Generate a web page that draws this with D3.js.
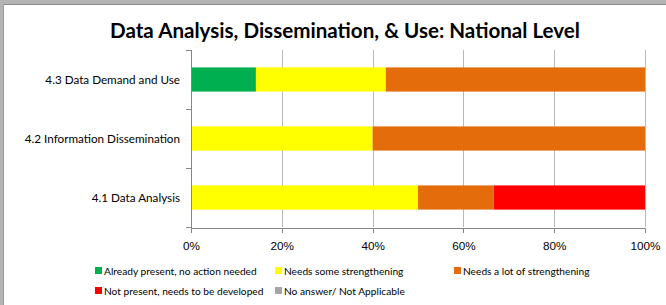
<!DOCTYPE html>
<html lang="en">
<head>
<meta charset="UTF-8">
<title>Data Analysis, Dissemination, & Use: National Level</title>
<script src="https://cdn.jsdelivr.net/npm/d3@7"></script>
<style>
    body { margin: 0; background: #fff; }
    svg { display: block; font-family: "Lato", "Open Sans", sans-serif; }
    .grid line { stroke: #b9b9b9; stroke-width: 1; }
    .axis path, .axis line { stroke: #868686; shape-rendering: crispEdges; }
    .axis text { fill: #000; font-size: 11.7px; }
</style>
</head>
<body>
<svg width="666" height="305"></svg>
<script>
// categories, bottom to top as drawn in the chart
var categories = ["4.1 Data Analysis", "4.2 Information Dissemination", "4.3 Data Demand and Use"];
var seriesNames = ["Already present, no action needed", "Needs some strengthening",
    "Needs a lot of strengthening", "Not present, needs to be developed", "No answer/ Not Applicable"];
var alreadyPresent = [0, 0, 14.3];
var someStrength = [50, 40, 28.6];
var lotStrength = [16.7, 60, 57.1];
var notPresent = [33.3, 0, 0];
var noAnswer = [0, 0, 0];
var xTicks = [0, 20, 40, 60, 80, 100];
var colors = ["#00b050", "#ffff00", "#e46c0a", "#ff0000", "#a6a6a6"];

var svg = d3.select("svg");

// window frame
svg.append("rect").attr("x", 0).attr("y", 0).attr("width", 666).attr("height", 4).attr("fill", "#b4b4b4");
svg.append("rect").attr("x", 0).attr("y", 0).attr("width", 3).attr("height", 305).attr("fill", "#b4b4b4");
svg.append("line").attr("x1", 3).attr("x2", 666).attr("y1", 4.5).attr("y2", 4.5).attr("stroke", "#8a8a8a");
svg.append("line").attr("x1", 3.5).attr("x2", 3.5).attr("y1", 4).attr("y2", 305).attr("stroke", "#9a9a9a");

svg.append("text")
    .attr("x", 345).attr("y", 38)
    .attr("text-anchor", "middle")
    .style("font-weight", "bold").style("font-size", "20.6px")
    .text("Data Analysis, Dissemination, & Use: National Level");

var rows = categories.map(function (c, i) {
    return {cat: c, s0: alreadyPresent[i], s1: someStrength[i], s2: lotStrength[i], s3: notPresent[i], s4: noAnswer[i]};
});
var keys = ["s0", "s1", "s2", "s3", "s4"];
var stacked = d3.stack().keys(keys)(rows);

var x = d3.scaleLinear().domain([0, 100]).range([191, 645]);
var y = d3.scaleBand().domain(categories.slice().reverse()).range([50, 227])
    .paddingInner(0.59).paddingOuter(0.295);

// gridlines
svg.append("g").attr("class", "grid")
    .selectAll("line").data(xTicks.slice(1)).enter().append("line")
    .attr("x1", function (d) { return Math.round(x(d)) + 0.5; })
    .attr("x2", function (d) { return Math.round(x(d)) + 0.5; })
    .attr("y1", 50).attr("y2", 227);

svg.selectAll(".series").data(stacked).enter().append("g")
    .attr("fill", function (d, i) { return colors[i]; })
    .selectAll("rect").data(function (d) { return d; }).enter().append("rect")
    .attr("x", function (d) { return x(d[0]); })
    .attr("width", function (d) { return x(d[1]) - x(d[0]); })
    .attr("y", function (d) { return y(d.data.cat); })
    .attr("height", y.bandwidth());

// x axis
var axisX = d3.axisBottom(x).tickValues(xTicks).tickSize(5).tickSizeOuter(0)
    .tickFormat(function (d) { return d + "%"; });
svg.append("g").attr("class", "axis")
    .attr("transform", "translate(0,227.5)")
    .call(axisX)
    .selectAll("text").attr("dy", "1.25em");

// y axis: ticks on band boundaries
var yLine = d3.scaleLinear().domain([0, 3]).range([227, 50]);
var gy = svg.append("g").attr("class", "axis");
gy.append("line").attr("x1", 191.5).attr("x2", 191.5).attr("y1", 50).attr("y2", 227);
gy.selectAll(".tk").data([0, 1, 2, 3]).enter().append("line")
    .attr("x1", 186).attr("x2", 191.5)
    .attr("y1", function (d) { return Math.round(yLine(d)) + 0.5; })
    .attr("y2", function (d) { return Math.round(yLine(d)) + 0.5; });
gy.selectAll("text").data(categories).enter().append("text")
    .attr("x", 180)
    .attr("y", function (d) { return y(d) + y.bandwidth() / 2; })
    .attr("dy", "0.35em")
    .attr("text-anchor", "end")
    .text(function (d) { return d; });

// legend
var legendPos = [[95, 271], [275, 271], [454, 271], [95, 291], [275, 291]];
var lg = svg.selectAll(".legend").data(seriesNames).enter().append("g")
    .attr("transform", function (d, i) { return "translate(" + legendPos[i][0] + "," + legendPos[i][1] + ")"; });
lg.append("rect").attr("x", 0).attr("y", -4).attr("width", 7).attr("height", 7)
    .attr("fill", function (d, i) { return colors[i]; });
lg.append("text").attr("x", 9).attr("y", 0).attr("dy", "0.35em")
    .style("font-size", "10.2px")
    .text(function (d) { return d; });
</script>
</body>
</html>
